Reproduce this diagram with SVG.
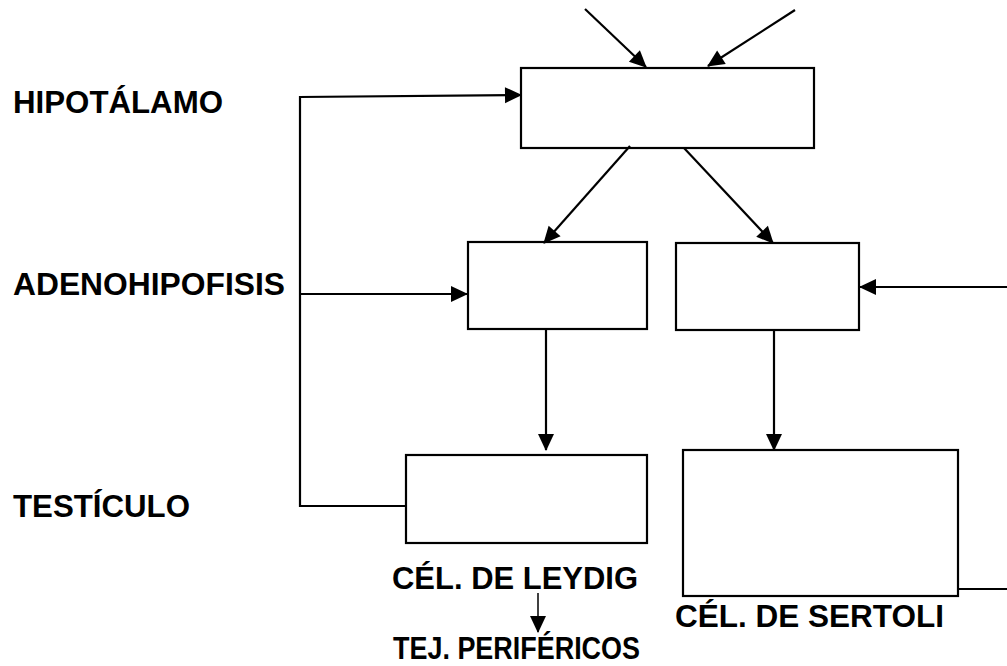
<svg xmlns="http://www.w3.org/2000/svg" width="1007" height="666" viewBox="0 0 1007 666">
  <style>
    .box { fill: #ffffff; stroke: #000000; stroke-width: 2.2; }
    .lbl { font-family: "Liberation Sans", Arial, sans-serif; font-weight: bold; font-size: 31.5px; fill: #000000; }
    .link { fill: none; stroke: #000000; stroke-width: 2.2; }
    .arrow { marker-end: url(#head); }
  </style>
  <defs>
    <marker id="head" markerUnits="userSpaceOnUse" markerWidth="18" markerHeight="17" refX="16" refY="8" orient="auto" overflow="visible">
      <path d="M0,0 L17,8 L0,16 Z" fill="#000000"/>
    </marker>
  </defs>

  <rect width="1007" height="666" fill="#ffffff"/>

  <!-- row labels -->
  <g id="labels">
    <text class="lbl" x="13" y="113" textLength="210" lengthAdjust="spacingAndGlyphs">HIPOTÁLAMO</text>
    <text class="lbl" x="13" y="295" textLength="272" lengthAdjust="spacingAndGlyphs">ADENOHIPOFISIS</text>
    <text class="lbl" x="13" y="517" textLength="177" lengthAdjust="spacingAndGlyphs">TESTÍCULO</text>
  </g>

  <!-- boxes -->
  <g id="hipotalamo"><rect class="box" x="521" y="68" width="293" height="80"/></g>
  <g id="adeno-lh"><rect class="box" x="468" y="242" width="179" height="87"/></g>
  <g id="adeno-fsh"><rect class="box" x="676" y="243" width="183" height="87"/></g>
  <g id="leydig">
    <rect class="box" x="406" y="455" width="241" height="88"/>
    <text class="lbl" x="392" y="589" textLength="246" lengthAdjust="spacingAndGlyphs">CÉL. DE LEYDIG</text>
  </g>
  <g id="sertoli">
    <rect class="box" x="683" y="450" width="275" height="146"/>
    <text class="lbl" x="675" y="627" textLength="269" lengthAdjust="spacingAndGlyphs">CÉL. DE SERTOLI</text>
  </g>
  <g id="perifericos">
    <text class="lbl" x="393" y="659" textLength="247" lengthAdjust="spacingAndGlyphs">TEJ. PERIFÉRICOS</text>
  </g>

  <!-- connectors -->
  <g id="connectors">
    <path class="link arrow" d="M585,9 L646,67"/>
    <path class="link arrow" d="M795,10 L708,66"/>
    <path class="link arrow" d="M630,146 L544,243"/>
    <path class="link arrow" d="M684,148 L773,243"/>
    <path class="link arrow" d="M406,506 H300 V97 L521,95"/>
    <path class="link arrow" d="M300,294 H467"/>
    <path class="link arrow" d="M546,329 V450"/>
    <path class="link arrow" d="M774,330 V450"/>
    <path class="link arrow" d="M1007,287 H860"/>
    <path class="link" d="M958,589 H1007"/>
    <path class="link arrow" style="stroke-width:1.5" d="M538,593 V632"/>
  </g>
</svg>
